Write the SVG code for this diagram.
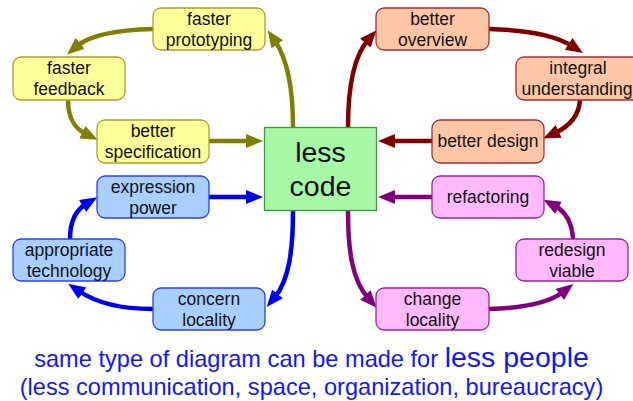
<svg xmlns="http://www.w3.org/2000/svg" width="633" height="401" viewBox="0 0 633 401">
<style>
text{font-family:"Liberation Sans",Arial,sans-serif;fill:#111;text-anchor:middle}
.n{font-size:17.5px}
.y rect{fill:#ffff99;stroke:#a8a030;stroke-width:1.3}
.r rect{fill:#ffc6a6;stroke:#a03030;stroke-width:1.3}
.b rect{fill:#a8d0ff;stroke:#2a3cff;stroke-width:1.3}
.p rect{fill:#ffbaff;stroke:#a020a0;stroke-width:1.3}
.c{fill:none;stroke-width:4.5}
.cy{stroke:#808000;marker-end:url(#my)}
.cr{stroke:#800000;marker-end:url(#mr)}
.cb{stroke:#0000f0;marker-end:url(#mb)}
.cp{stroke:#800080;marker-end:url(#mp)}
.foot{fill:#1414ff;font-size:23.6px}
</style>
<defs>
<marker id="my" markerUnits="userSpaceOnUse" markerWidth="20" markerHeight="16" refX="4" refY="7" orient="auto"><path d="M0,0 L17,7 L0,14 Z" fill="#808000"/></marker>
<marker id="mr" markerUnits="userSpaceOnUse" markerWidth="20" markerHeight="16" refX="4" refY="7" orient="auto"><path d="M0,0 L17,7 L0,14 Z" fill="#800000"/></marker>
<marker id="mb" markerUnits="userSpaceOnUse" markerWidth="20" markerHeight="16" refX="4" refY="7" orient="auto"><path d="M0,0 L17,7 L0,14 Z" fill="#0000f0"/></marker>
<marker id="mp" markerUnits="userSpaceOnUse" markerWidth="20" markerHeight="16" refX="4" refY="7" orient="auto"><path d="M0,0 L17,7 L0,14 Z" fill="#800080"/></marker>
</defs>
<g id="connectors">
<path class="c cy" d="M293,127 C293,90 288,60 275,41"/>
<path class="c cy" d="M153,29 C115,30 90,35 77,46"/>
<path class="c cy" d="M68,100 C68,118 74,128 86,134"/>
<path class="c cy" d="M209,141 L250,141"/>
<path class="c cr" d="M348,127 C348,85 355,55 368,40"/>
<path class="c cr" d="M489,29 C525,30 555,35 572,46"/>
<path class="c cr" d="M580,100 C579,115 570,126 555,133"/>
<path class="c cr" d="M432,141 L391,141"/>
<path class="c cb" d="M293,211 C293,250 289,280 275,297"/>
<path class="c cb" d="M153,309 C120,309 95,302 79,291"/>
<path class="c cb" d="M70,239 C70,222 76,210 86,204"/>
<path class="c cb" d="M209,197 L250,197"/>
<path class="c cp" d="M348,211 C348,250 352,280 368,298"/>
<path class="c cp" d="M489,309 C525,308 550,302 563,292"/>
<path class="c cp" d="M573,239 C572,222 566,212 555,206"/>
<path class="c cp" d="M432,197 L391,197"/>
</g>
<g id="less-code"><rect x="264.5" y="127.5" width="112" height="83" fill="#a6f7a6" stroke="#3a9a3a" stroke-width="1.3"/><text x="320.5" y="161.5" font-size="28.5px">less</text><text x="320.5" y="195.5" font-size="28.5px">code</text></g>
<g id="faster-prototyping" class="y"><rect x="153" y="8" width="112" height="42" rx="8"/><text class="n" x="209" y="25">faster</text><text class="n" x="209" y="46">prototyping</text></g>
<g id="faster-feedback" class="y"><rect x="13" y="57" width="112" height="43" rx="8"/><text class="n" x="69" y="73.5">faster</text><text class="n" x="69" y="94.5">feedback</text></g>
<g id="better-specification" class="y"><rect x="97" y="120" width="112" height="43" rx="8"/><text class="n" x="153" y="136.5">better</text><text class="n" x="153" y="157.5">specification</text></g>
<g id="better-overview" class="r"><rect x="376" y="8" width="113" height="42" rx="8"/><text class="n" x="432.5" y="25">better</text><text class="n" x="432.5" y="46">overview</text></g>
<g id="integral-understanding" class="r"><rect x="516" y="57" width="128" height="43" rx="8"/><text class="n" x="578" y="73.5">integral</text><text class="n" x="577" y="94.5">understanding</text></g>
<g id="better-design" class="r"><rect x="432" y="120" width="112" height="43" rx="8"/><text class="n" x="488" y="147">better design</text></g>
<g id="expression-power" class="b"><rect x="97" y="176" width="112" height="42" rx="8"/><text class="n" x="153" y="192.5">expression</text><text class="n" x="153" y="213.5">power</text></g>
<g id="appropriate-technology" class="b"><rect x="13" y="239" width="112" height="42" rx="8"/><text class="n" x="69" y="255.5">appropriate</text><text class="n" x="69" y="276.5">technology</text></g>
<g id="concern-locality" class="b"><rect x="153" y="288" width="112" height="42" rx="8"/><text class="n" x="209" y="304.5">concern</text><text class="n" x="209" y="325.5">locality</text></g>
<g id="refactoring" class="p"><rect x="432" y="176" width="112" height="42" rx="8"/><text class="n" x="488" y="203">refactoring</text></g>
<g id="redesign-viable" class="p"><rect x="516" y="239" width="112" height="42" rx="8"/><text class="n" x="572" y="255.5">redesign</text><text class="n" x="572" y="276.5">viable</text></g>
<g id="change-locality" class="p"><rect x="376" y="288" width="113" height="42" rx="8"/><text class="n" x="432.5" y="304.5">change</text><text class="n" x="432.5" y="325.5">locality</text></g>
<text class="foot" x="311.5" y="366.5">same type of diagram can be made for <tspan font-size="28.5px">less people</tspan></text>
<text class="foot" x="311.5" y="395">(less communication, space, organization, bureaucracy)</text>
</svg>
